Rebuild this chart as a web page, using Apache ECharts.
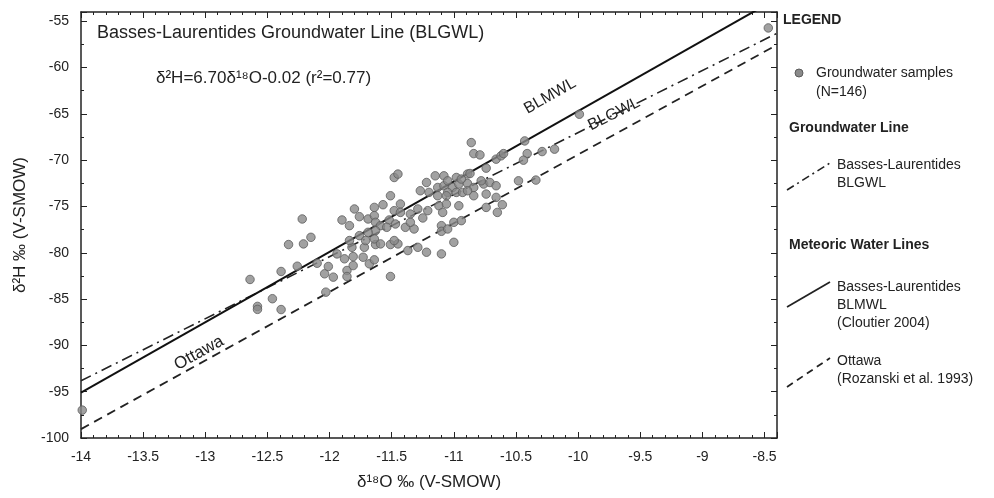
<!DOCTYPE html>
<html><head><meta charset="utf-8">
<script src="https://cdn.jsdelivr.net/npm/echarts@6/dist/echarts.min.js"></script>
<style>html,body{margin:0;padding:0;background:#fff}#c{width:994px;height:498px}</style>
</head><body><div id="c"></div>
<script>
// Groundwater samples: δ18O (x) and δ2H (y)
const sampleO18 = [-13.99,-12.64,-12.58,-12.58,-12.39,-12.46,-12.39,-12.33,-12.21,-12.26,
-12.04,-12.01,-11.97,-12.03,-12.10,-11.94,-11.88,-11.86,-11.86,-11.81,-11.81,-11.73,-11.68,-11.64,-11.51,-11.72,-11.63,-11.51,-11.45,-11.82,
-10.86,-10.84,-10.79,-10.66,-10.62,-11.48,-11.45,-11.15,-11.08,-10.98,-10.89,-11.22,-11.27,-11.20,-11.13,-11.08,-11.01,-10.96,-10.89,-10.84,
-10.76,-10.71,-10.66,-11.05,-10.98,-10.93,-10.84,-10.74,-10.66,-11.13,-11.51,-11.43,-11.64,-11.57,-11.80,-11.76,-11.69,-11.64,-11.63,-11.59,
-11.52,-11.48,-11.43,-11.35,-11.29,-11.21,-11.12,-11.06,-10.96,-11.09,-10.74,-10.65,-11.90,-11.84,-12.22,-11.63,-11.54,-11.47,-11.39,-11.32,
-11.35,-11.25,-11.10,-11.10,-11.05,-11.00,-10.94,-11.69,-11.76,-11.84,-11.71,-11.64,-11.59,-11.48,-11.37,-11.29,-11.22,-11.10,-11.00,-12.15,
-9.99,-10.60,-10.43,-10.41,-10.44,-10.29,-10.19,-10.74,-10.87,-10.94,-11.05,-10.78,-10.89,-11.06,-10.48,-10.34,-10.61,-8.47];
const sampleH2 = [-96.99,-82.88,-85.79,-86.11,-82.02,-84.96,-86.13,-79.11,-79.04,-81.45,
-82.27,-81.48,-82.63,-84.25,-81.13,-80.12,-80.65,-81.91,-82.56,-81.38,-80.41,-80.48,-81.19,-80.76,-82.56,-79.41,-79.11,-79.11,-79.04,-79.41,
-68.10,-69.29,-69.43,-69.89,-69.53,-71.87,-71.50,-71.69,-71.69,-71.87,-71.50,-72.41,-73.30,-73.48,-72.95,-72.76,-72.95,-72.58,-72.52,-72.95,
-72.58,-72.41,-72.76,-73.48,-73.48,-73.48,-73.84,-73.66,-74.02,-73.84,-73.84,-74.73,-75.10,-74.81,-75.27,-76.10,-76.35,-75.99,-76.71,-77.07,
-76.46,-75.45,-75.64,-75.81,-75.27,-75.45,-74.92,-74.73,-74.92,-75.64,-75.10,-75.64,-76.46,-77.07,-76.35,-77.61,-77.25,-76.89,-77.25,-77.43,
-76.71,-76.24,-77.07,-77.68,-77.43,-76.71,-76.53,-77.79,-78.15,-78.68,-78.68,-78.50,-79.04,-78.68,-79.76,-79.41,-79.94,-80.12,-78.87,-78.33,
-65.04,-69.29,-67.92,-69.29,-70.00,-69.07,-68.81,-70.86,-71.44,-72.04,-72.23,-72.23,-73.30,-73.84,-72.23,-72.15,-74.81,-55.72];

// Water lines, end points across the x range
const lineO18 = [-14, -8.4];
const blmwlH2 = [-95.1, -52.54];   // BLMWL (Cloutier 2004)
const blgwlH2 = [-93.82, -56.30];  // BLGWL 6.70x-0.02
const ottawaH2 = [-99.04, -57.54]; // Ottawa (Rozanski et al. 1993)

const xTicks = [-14,-13.5,-13,-12.5,-12,-11.5,-11,-10.5,-10,-9.5,-9,-8.5];
const yTicks = [-100,-95,-90,-85,-80,-75,-70,-65,-60,-55];

const FONT = 'Liberation Sans, Arial, sans-serif';
const chart = echarts.init(document.getElementById('c'), null, {renderer: 'canvas'});

const pts = sampleO18.map((x, i) => [x, sampleH2[i]]);
const pair = (ys) => lineO18.map((x, i) => [x, ys[i]]);

function baseX(show) {
  return {
    type: 'value', min: -14, max: -8.4, interval: 0.5,
    axisLine: {show: true, onZero: false, lineStyle: {color: '#222', width: 1.5}},
    axisTick: {show: true, inside: true, length: 6, lineStyle: {color: '#222', width: 1}},
    minorTick: {show: true, splitNumber: 5, length: 3, lineStyle: {color: '#222', width: 1}},
    splitLine: {show: false}, minorSplitLine: {show: false},
    axisLabel: show ? {show: true, margin: 12, color: '#222', fontSize: 14, fontFamily: FONT, showMaxLabel: false,
      formatter: v => xTicks.includes(+v.toFixed(1)) ? String(v) : ''} : {show: false}
  };
}
function baseY(show) {
  return {
    type: 'value', min: -100, max: -54, interval: 5,
    axisLine: {show: true, onZero: false, lineStyle: {color: '#222', width: 1.5}},
    axisTick: {show: true, inside: true, length: 6, lineStyle: {color: '#222', width: 1}},
    minorTick: {show: true, splitNumber: 2, length: 3, lineStyle: {color: '#222', width: 1}},
    splitLine: {show: false}, minorSplitLine: {show: false},
    axisLabel: show ? {show: true, margin: 12, color: '#222', fontSize: 14, fontFamily: FONT, showMaxLabel: false,
      formatter: v => yTicks.includes(v) ? String(v) : ''} : {show: false}
  };
}

const xb = baseX(true);
xb.position = 'bottom';
xb.name = 'δ¹⁸O ‰ (V-SMOW)';
xb.nameLocation = 'middle';
xb.nameGap = 36;
xb.nameTextStyle = {fontSize: 17, color: '#222', fontFamily: FONT};
const xt = baseX(false); xt.position = 'top';
const yl = baseY(true);
yl.position = 'left';
yl.name = 'δ²H ‰ (V-SMOW)';
yl.nameLocation = 'middle';
yl.nameGap = 52;
yl.nameTextStyle = {fontSize: 17, color: '#222', fontFamily: FONT};
const yr = baseY(false); yr.position = 'right';

const legendText = (x, y, t, bold, size) => ({
  type: 'text', x: x, y: y, z: 10,
  style: {text: t, fill: '#222', font: (bold ? 'bold ' : '') + (size || 14) + 'px ' + FONT, textVerticalAlign: 'middle'}
});
const legendLine = (x1, y1, x2, y2, dash, w) => ({
  type: 'line', z: 10, shape: {x1, y1, x2, y2},
  style: {stroke: '#222', lineWidth: w || 1.8, lineDash: dash || null}
});
const rotText = (x, y, deg, t, size) => ({
  type: 'text', x: x, y: y, rotation: deg * Math.PI / 180, z: 10,
  style: {text: t, fill: '#222', font: size + 'px ' + FONT, textAlign: 'center', textVerticalAlign: 'middle'}
});

chart.setOption({
  animation: false,
  backgroundColor: '#fff',
  grid: {left: 81, right: 217, top: 12, bottom: 60, containLabel: false},
  xAxis: [xb, xt],
  yAxis: [yl, yr],
  series: [
    {type: 'line', data: pair(ottawaH2), showSymbol: false, symbol: 'none', clip: true,
      lineStyle: {color: '#222', width: 1.8, type: [9, 6]}, z: 2},
    {type: 'line', data: pair(blgwlH2), showSymbol: false, symbol: 'none', clip: true,
      lineStyle: {color: '#222', width: 1.6, type: [11, 5, 2, 5]}, z: 2},
    {type: 'line', data: pair(blmwlH2), showSymbol: false, symbol: 'none', clip: true,
      lineStyle: {color: '#111', width: 2}, z: 2},
    {type: 'scatter', data: pts, symbol: 'circle', symbolSize: 8.5, z: 3,
      itemStyle: {color: '#8a8a8a', borderColor: '#5c5c5c', borderWidth: 1}}
  ],
  graphic: [
    {type: 'text', x: 97, y: 33, style: {text: 'Basses-Laurentides Groundwater Line (BLGWL)', fill: '#222', font: '18px ' + FONT, textVerticalAlign: 'middle'}},
    {type: 'text', x: 156, y: 78, style: {text: 'δ²H=6.70δ¹⁸O-0.02 (r²=0.77)', fill: '#222', font: '17px ' + FONT, textVerticalAlign: 'middle'}},
    rotText(550, 96, 29.6, 'BLMWL', 16),
    rotText(614, 114, 26.6, 'BLGWL', 16),
    rotText(199, 353, 29, 'Ottawa', 17),
    legendText(783, 20, 'LEGEND', true),
    {type: 'circle', shape: {cx: 799, cy: 73, r: 4}, style: {fill: '#8a8a8a', stroke: '#5c5c5c', lineWidth: 1}, z: 10},
    legendText(816, 73, 'Groundwater samples'),
    legendText(816, 92, '(N=146)'),
    legendText(789, 128, 'Groundwater Line', true),
    legendLine(787, 190, 830, 163, [8, 4, 2, 4], 1.6),
    legendText(837, 165, 'Basses-Laurentides'),
    legendText(837, 183, 'BLGWL'),
    legendText(789, 245, 'Meteoric Water Lines', true),
    legendLine(787, 307, 830, 282, null, 1.8),
    legendText(837, 287, 'Basses-Laurentides'),
    legendText(837, 305, 'BLMWL'),
    legendText(837, 323, '(Cloutier 2004)'),
    legendLine(787, 387, 830, 358, [7, 5], 1.8),
    legendText(837, 361, 'Ottawa'),
    legendText(837, 379, '(Rozanski et al. 1993)')
  ]
});
</script></body></html>
